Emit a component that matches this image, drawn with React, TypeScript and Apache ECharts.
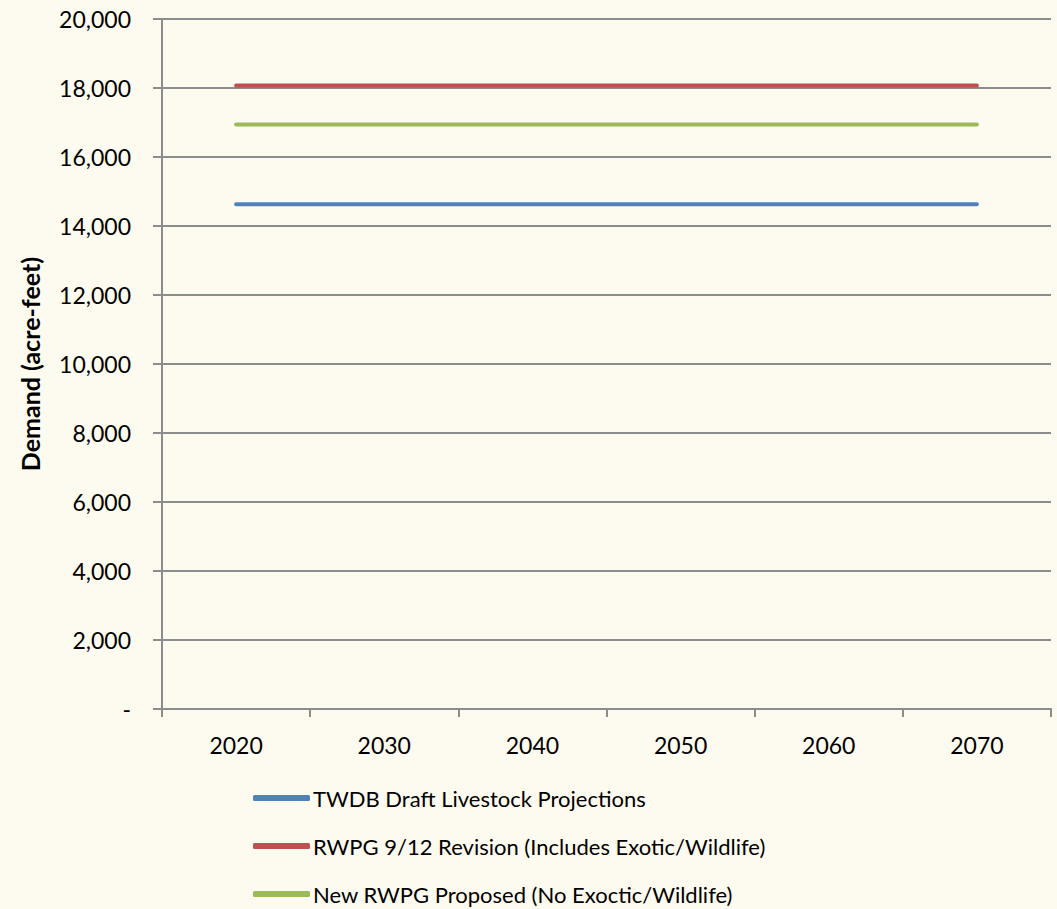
import React, { useEffect, useRef } from "react";
import * as echarts from "echarts";

const years = ["2020", "2030", "2040", "2050", "2060", "2070"];
const twdb = [14630, 14630, 14630, 14630, 14630, 14630];
const rwpgRevision = [18070, 18070, 18070, 18070, 18070, 18070];
const rwpgProposed = [16940, 16940, 16940, 16940, 16940, 16940];
const seriesNames = [
  "TWDB Draft Livestock Projections",
  "RWPG 9/12 Revision (Includes Exotic/Wildlife)",
  "New RWPG Proposed (No Exoctic/Wildlife)",
];

const FONT = "Lato, 'Open Sans', sans-serif";

export default function App() {
  const ref = useRef<HTMLDivElement>(null);
  useEffect(() => {
    document.body.style.margin = "0";
    const chart = echarts.init(ref.current!, undefined, { renderer: "svg" });
    const mk = (name: string, data: number[], color: string) => ({
      name,
      type: "line",
      data,
      symbol: "none",
      lineStyle: { color, width: 4, cap: "round" },
      itemStyle: { color },
    });
    chart.setOption({
      animation: false,
      backgroundColor: "#FDFBEF",
      grid: { left: 162, right: 6, top: 19, bottom: 200, containLabel: false },
      xAxis: {
        type: "category",
        data: years,
        boundaryGap: true,
        axisLine: { lineStyle: { color: "#8C8C8C", width: 2 } },
        axisTick: { show: true, length: 8, lineStyle: { color: "#8C8C8C", width: 2 } },
        axisLabel: { color: "#000", fontSize: 23, fontFamily: FONT, margin: 24 },
      },
      yAxis: {
        type: "value",
        min: 0,
        max: 20000,
        interval: 2000,
        name: "Demand (acre-feet)",
        nameLocation: "middle",
        nameGap: 120,
        nameTextStyle: { color: "#000", fontSize: 25, fontWeight: "bold", fontFamily: FONT },
        axisLine: { show: true, lineStyle: { color: "#8C8C8C", width: 2 } },
        axisTick: { show: true, length: 9, inside: false, lineStyle: { color: "#8C8C8C", width: 2 } },
        axisLabel: {
          color: "#000",
          fontSize: 23,
          fontFamily: FONT,
          margin: 31,
          formatter: (v: number) => (v === 0 ? "-" : v.toLocaleString("en-US")),
        },
        splitLine: { show: true, lineStyle: { color: "#8C8C8C", width: 2 } },
      },
      legend: {
        orient: "vertical",
        left: 253,
        top: 787,
        height: 200,
        padding: 0,
        itemWidth: 57,
        itemHeight: 6,
        itemGap: 26,
        icon: "roundRect",
        textStyle: { color: "#000", fontSize: 22, fontFamily: FONT, padding: [0, 0, 0, -2] },
        data: seriesNames,
      },
      series: [
        mk(seriesNames[0], twdb, "#4F81BD"),
        mk(seriesNames[1], rwpgRevision, "#C0504D"),
        mk(seriesNames[2], rwpgProposed, "#9BBB59"),
      ],
    });
    return () => chart.dispose();
  }, []);
  return <div ref={ref} style={{ width: 1057, height: 909 }} />;
}
